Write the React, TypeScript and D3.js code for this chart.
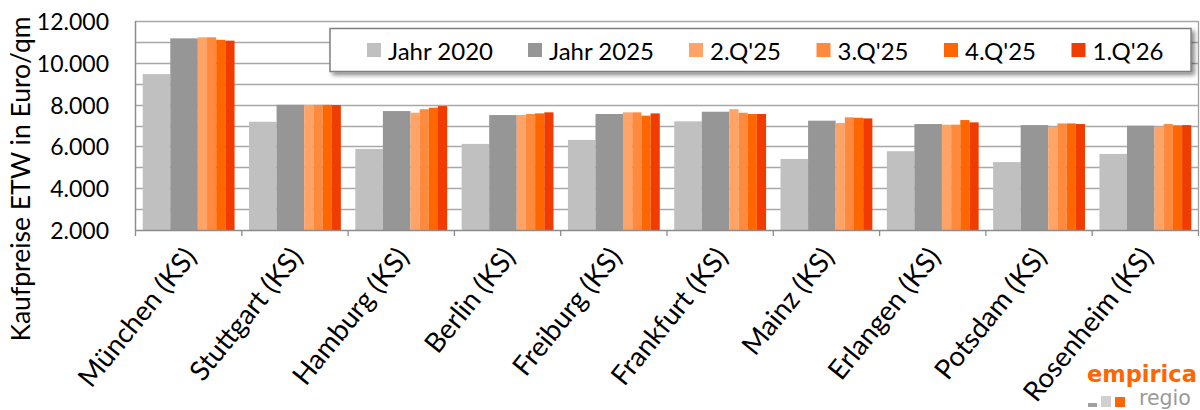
import React from "react";
import * as d3 from "d3";

const categories = [
  "München (KS)",
  "Stuttgart (KS)",
  "Hamburg (KS)",
  "Berlin (KS)",
  "Freiburg (KS)",
  "Frankfurt (KS)",
  "Mainz (KS)",
  "Erlangen (KS)",
  "Potsdam (KS)",
  "Rosenheim (KS)",
];
const seriesNames = ["Jahr 2020", "Jahr 2025", "2.Q'25", "3.Q'25", "4.Q'25", "1.Q'26"];
const jahr2020 = [9460, 7180, 5880, 6120, 6310, 7200, 5400, 5770, 5250, 5640];
const jahr2025 = [11170, 7990, 7690, 7500, 7550, 7660, 7230, 7070, 7020, 6990];
const q2_25 = [11220, 7990, 7610, 7500, 7630, 7780, 7120, 7040, 6930, 6940];
const q3_25 = [11220, 7990, 7780, 7550, 7630, 7610, 7390, 7040, 7100, 7070];
const q4_25 = [11100, 7990, 7850, 7580, 7470, 7550, 7370, 7260, 7100, 7010];
const q1_26 = [11060, 7980, 7930, 7630, 7580, 7550, 7340, 7150, 7070, 7020];
const yTicks = [2000, 4000, 6000, 8000, 10000, 12000];
const yGrid = [3000, 4000, 5000, 6000, 7000, 8000, 9000, 10000, 11000, 12000];

const seriesValues = [jahr2020, jahr2025, q2_25, q3_25, q4_25, q1_26];
const colors = ["#c0c0c0", "#969696", "#ffa366", "#ff8a3d", "#ff6600", "#f03c00"];
// unit offsets within group: annual bars 3 units, quarterly 1 unit
const unitStart = [0, 3, 6, 7, 8, 9];
const unitWidth = [3, 3, 1, 1, 1, 1];

const FONT = "Lato, 'Open Sans', sans-serif";

export default function App() {
  const W = 1200;
  const H = 410;
  const left = 135.5;
  const right = 1198.5;
  const top = 21;
  const bottom = 230;

  const x = d3.scaleBand<string>().domain(categories).range([left, right]).padding(0);
  const y = d3.scaleLinear().domain([2000, 12000]).range([bottom, top]);
  const bw = x.bandwidth();
  const pad = bw * 0.068;
  const u = d3.scaleLinear().domain([0, 10]).range([pad, bw - pad]);

  const fmt = (v: number) => d3.format(",")(v).replace(/,/g, ".");

  // legend layout
  const legendX = 330;
  const legendY = 28.5;
  const legendW = 861;
  const legendH = 43;
  const entryWidths = seriesNames.map((s) => (s.startsWith("Jahr") ? 161 : 127.5));
  const entryStarts: number[] = [];
  let acc = 367;
  entryWidths.forEach((w) => {
    entryStarts.push(acc);
    acc += w;
  });

  return (
    <svg
      width={W}
      height={H}
      style={{ position: "absolute", left: 0, top: 0, background: "#fff" }}
      fontFamily={FONT}
    >
      <defs>
        <filter id="sh" x="-5%" y="-30%" width="110%" height="170%">
          <feGaussianBlur in="SourceAlpha" stdDeviation="2" />
          <feOffset dx="3" dy="3" result="b" />
          <feComponentTransfer>
            <feFuncA type="linear" slope="0.45" />
          </feComponentTransfer>
          <feMerge>
            <feMergeNode />
            <feMergeNode in="SourceGraphic" />
          </feMerge>
        </filter>
      </defs>
      <rect x={0} y={0} width={W} height={H} fill="#fff" />

      {/* gridlines */}
      {yGrid.map((v) => (
        <line
          key={v}
          x1={left}
          x2={right}
          y1={Math.round(y(v)) + 0.5}
          y2={Math.round(y(v)) + 0.5}
          stroke="#a8a8a8"
          strokeWidth={1.3}
        />
      ))}
      {/* right border */}
      <line x1={right} x2={right} y1={top} y2={bottom} stroke="#a0a0a0" strokeWidth={1.3} />

      {/* bars */}
      {categories.map((c, i) => (
        <g key={c} transform={`translate(${x(c)},0)`}>
          {seriesValues.map((vals, s) => (
            <rect
              key={s}
              x={u(unitStart[s])}
              width={u(unitStart[s] + unitWidth[s]) - u(unitStart[s])}
              y={y(vals[i])}
              height={y(2000) - y(vals[i])}
              fill={colors[s]}
            />
          ))}
        </g>
      ))}

      {/* axes */}
      <line x1={left} x2={left} y1={top} y2={bottom} stroke="#8c8c8c" strokeWidth={1.5} />
      <line x1={left} x2={right} y1={bottom + 0.5} y2={bottom + 0.5} stroke="#8c8c8c" strokeWidth={1.5} />
      {categories.map((c) => (
        <line
          key={"t" + c}
          x1={(x(c) as number)}
          x2={(x(c) as number)}
          y1={bottom}
          y2={bottom + 6}
          stroke="#8c8c8c"
          strokeWidth={1.3}
        />
      ))}
      <line x1={right} x2={right} y1={bottom} y2={bottom + 6} stroke="#8c8c8c" strokeWidth={1.3} />

      {/* y tick labels */}
      {yTicks.map((v) => (
        <text
          key={v}
          x={109}
          y={y(v)}
          textAnchor="end"
          dominantBaseline="central"
          fontSize={23}
          fill="#000"
        >
          {fmt(v)}
        </text>
      ))}

      {/* y axis title */}
      <text
        transform={`translate(20,179) rotate(-90)`}
        textAnchor="middle"
        dominantBaseline="central"
        fontSize={26.5}
        fill="#000"
      >
        Kaufpreise ETW in Euro/qm
      </text>

      {/* category labels */}
      {categories.map((c) => {
        const cx = (x(c) as number) + bw / 2;
        return (
          <text
            key={"l" + c}
            transform={`translate(${cx + 1},${bottom + 21}) rotate(-51)`}
            textAnchor="end"
            dominantBaseline="central"
            fontSize={27.5}
            fill="#000"
          >
            {c}
          </text>
        );
      })}

      {/* legend */}
      <g filter="url(#sh)">
        <rect x={legendX} y={legendY} width={legendW} height={legendH} fill="#fff" stroke="#7f7f7f" strokeWidth={1.5} />
      </g>
      {seriesNames.map((s, i) => (
        <g key={s} transform={`translate(${entryStarts[i]},${legendY + legendH / 2})`}>
          <rect x={0} y={-7} width={14} height={14} fill={colors[i]} />
          <text x={21} y={0} dominantBaseline="central" fontSize={24} fill="#000">
            {s}
          </text>
        </g>
      ))}

      {/* logo */}
      <text x={1087} y={382} fontFamily="'DejaVu Sans', sans-serif" fontWeight="bold" fontSize={22.5} fill="#ff6600">
        empirica
      </text>
      <rect x={1088} y={403} width={9} height={4} fill="#a0a0a0" />
      <rect x={1101} y={396} width={10} height={11} fill="#d0d0d0" />
      <rect x={1115} y={397} width={10} height={10} fill="#ff6600" />
      <text x={1139} y={405} fontFamily="'DejaVu Sans', sans-serif" fontSize={20.5} fill="#9a9a9a">
        regio
      </text>
    </svg>
  );
}
